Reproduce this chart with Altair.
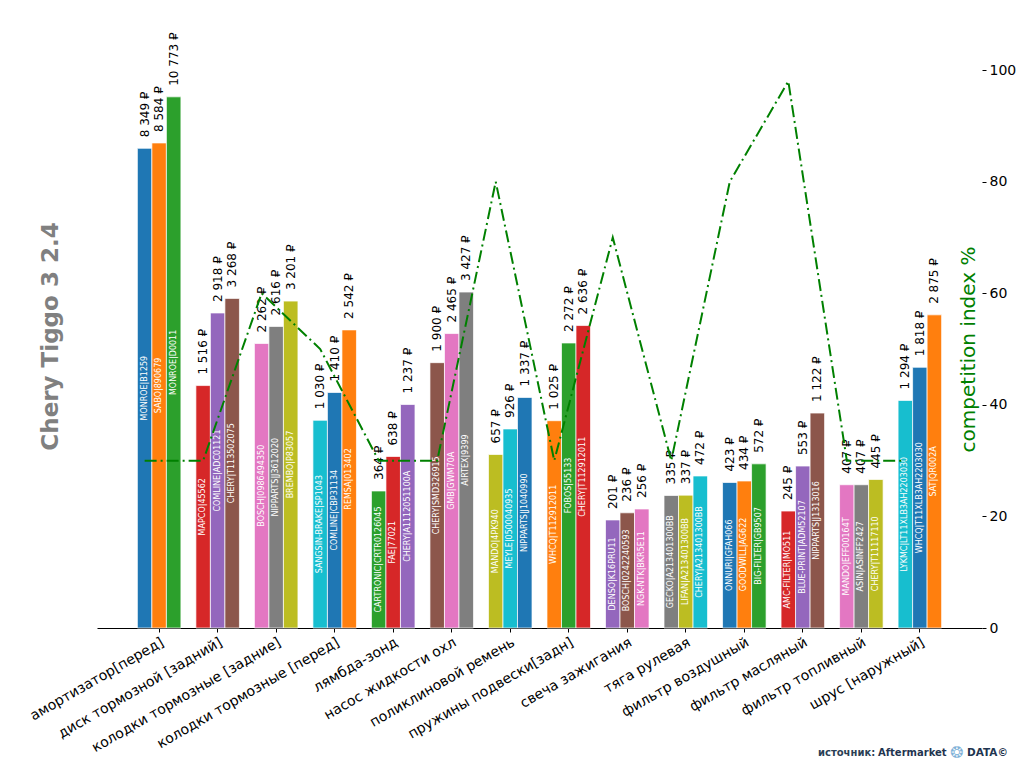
import altair as alt
import pandas as pd

CATEGORIES = [
    "амортизатор[перед]", "диск тормозной [задний]", "колодки тормозные [задние]",
    "колодки тормозные [перед]", "лямбда-зонд", "насос жидкости охл",
    "поликлиновой ремень", "пружины подвески[задн]", "свеча зажигания",
    "тяга рулевая", "фильтр воздушный", "фильтр масляный", "фильтр топливный",
    "шрус [наружный]",
]

PRICES = [
    [8349, 8584, 10773],
    [1516, 2918, 3268],
    [2262, 2616, 3201],
    [1030, 1410, 2542],
    [364, 638, 1237],
    [1900, 2465, 3427],
    [657, 926, 1337],
    [1025, 2272, 2636],
    [201, 236, 256],
    [335, 337, 472],
    [423, 434, 572],
    [245, 553, 1122],
    [407, 407, 445],
    [1294, 1818, 2875],
]

PARTS = [
    ["MONROE|B1259", "SABO|890679", "MONROE|D0011"],
    ["MAPCO|45562", "COMLINE|ADC01121", "CHERY|T113502075"],
    ["BOSCH|0986494350", "NIPPARTS|J3612020", "BREMBO|P83057"],
    ["SANGSIN-BRAKE|SP1043", "COMLINE|CBP31134", "REMSA|013402"],
    ["CARTRONIC|CRTR0126045", "FAE|77021", "CHERY|A1112051100A"],
    ["CHERY|SMD326915", "GMB|GWM70A", "AIRTEX|9399"],
    ["MANDO|4PK940", "MEYLE|0500040935", "NIPPARTS|J1040990"],
    ["WHCQ|T112912011", "FOBOS|55133", "CHERY|T112912011"],
    ["DENSO|K16PRU11", "BOSCH|0242240593", "NGK-NTK|BKR5E11"],
    ["GECKO|A213401300BB", "LIFAN|A213401300BB", "CHERY|A213401300BB"],
    ["ONNURI|GFAH066", "GOODWILL|AG622", "BIG-FILTER|GB9507"],
    ["AMC-FILTER|MO511", "BLUE-PRINT|ADM52107", "NIPPARTS|J1313016"],
    ["MANDO|EFF00164T", "ASIN|ASINFF2427", "CHERY|T11117110"],
    ["LYKMC|LT11XLB3AH2203030", "WHCQ|T11XLB3AH2203030", "SAT|QR002A"],
]

COMPETITION = [30, 30, 60, 50, 30, 30, 80, 30, 70, 30, 80, 98, 30, 30]

TITLE = "Chery Tiggo 3 2.4"
RIGHT_TITLE = "competition index %"
SOURCE = ["источник:", "Aftermarket", "❂", "DATA©"]

TAB10 = ["#1f77b4", "#ff7f0e", "#2ca02c", "#d62728", "#9467bd",
         "#8c564b", "#e377c2", "#7f7f7f", "#bcbd22", "#17becf"]

rows = []
i = 0
for c, ps, names in zip(CATEGORIES, PRICES, PARTS):
    for s, (p, n) in enumerate(zip(ps, names)):
        rows.append(dict(cat=c, slot=s, idx=i, price=p, part=n,
                         label=f"{p:,}".replace(",", " ") + " ₽"))
        i += 1
bars_df = pd.DataFrame(rows)
comp_df = pd.DataFrame({"cat": CATEGORIES, "comp": COMPETITION})

W, H = 885, 588

xscale = alt.Scale(paddingInner=0.256, paddingOuter=0.69)
xaxis = alt.Axis(title=None, labelAngle=-30, labelAlign="right", labelBaseline="top",
                 labelFontSize=14, labelColor="black", labelPadding=3, tickSize=4,
                 tickColor="black", domainColor="black", labelLimit=400,
                 labelOverlap=False, grid=False)
x_main = alt.X("cat:N", sort=CATEGORIES, scale=xscale, axis=xaxis)
xo = alt.XOffset("slot:O", scale=alt.Scale(paddingInner=0, paddingOuter=0))

yscale = alt.Scale(type="pow", exponent=0.4, domain=[0, 13890], nice=False, zero=True)
yaxis_left = alt.Axis(title=TITLE, labels=False, ticks=False, domain=False, grid=False,
                      titleFontSize=23, titleFontWeight="bold", titleColor="gray",
                      titleAngle=270, titleX=-40, titleY=296, titleAlign="center",
                      titleBaseline="alphabetic")

bars = alt.Chart(bars_df).mark_bar(stroke="white", strokeWidth=0.7).encode(
    x=x_main, xOffset=xo,
    y=alt.Y("price:Q", scale=yscale, axis=yaxis_left),
    color=alt.Color("idx:O", scale=alt.Scale(range=TAB10), legend=None),
)

vals = alt.Chart(bars_df).mark_text(angle=270, align="left", baseline="middle", dx=11,
                                    fontSize=12, color="black").encode(
    x=x_main, xOffset=xo,
    y=alt.Y("price:Q", scale=yscale, axis=yaxis_left),
    text="label:N",
)

inner = alt.Chart(bars_df).transform_calculate(
    mid="datum.price * pow(0.5, 2.5)"
).mark_text(angle=270, align="center", baseline="middle", fontSize=8, color="white").encode(
    x=x_main, xOffset=xo,
    y=alt.Y("mid:Q", scale=yscale, axis=yaxis_left),
    text="part:N",
)

bar_layer = alt.layer(bars, vals, inner)

yaxis_right = alt.Axis(orient="right", values=[0, 20, 40, 60, 80, 100], grid=False,
                       domain=False, tickSize=4, tickColor="black", labelColor="black",
                       labelFontSize=14, labelPadding=3, title=RIGHT_TITLE,
                       titleColor="green", titleFontSize=20, titleFontWeight="normal",
                       titleAngle=270, titleX=-8, titleY=309, titleAlign="center",
                       titleBaseline="alphabetic")

line = alt.Chart(comp_df).mark_line(color="green", strokeWidth=2,
                                    strokeDash=[12, 4, 2, 4]).encode(
    x=alt.X("cat:N", sort=CATEGORIES, scale=xscale, axis=xaxis, bandPosition=1 / 6),
    y=alt.Y("comp:Q", scale=alt.Scale(domain=[0, 105.4], nice=False), axis=yaxis_right),
)

dummy = alt.Data(values=[{}])
src1 = alt.Chart(dummy).mark_text(text=SOURCE[0], align="left", baseline="middle",
                                  fontSize=10, fontWeight="bold", color="#2b3f55").encode(
    x=alt.value(721), y=alt.value(713))
src2 = alt.Chart(dummy).mark_text(text=SOURCE[1], align="left", baseline="middle",
                                  fontSize=10, fontWeight="bold", color="#1f3550").encode(
    x=alt.value(781), y=alt.value(713))
src3 = alt.Chart(dummy).mark_text(text=SOURCE[2], align="center", baseline="middle",
                                  fontSize=16, color="#7fb2d8").encode(
    x=alt.value(860), y=alt.value(713))
src4 = alt.Chart(dummy).mark_text(text=SOURCE[3], align="left", baseline="middle",
                                  fontSize=10.5, fontWeight="bold", color="#1f3550").encode(
    x=alt.value(870), y=alt.value(713))

chart = alt.layer(bar_layer, line, src1, src2, src3, src4).resolve_scale(
    y="independent"
).properties(
    width=W, height=H,
    autosize=alt.AutoSizeParams(type="none"),
    padding={"left": 89, "top": 32, "right": 34, "bottom": 138},
).configure(font="DejaVu Sans", background="white").configure_view(stroke=None)

chart.save("out.html", embed_options={"renderer": "svg", "actions": False})
